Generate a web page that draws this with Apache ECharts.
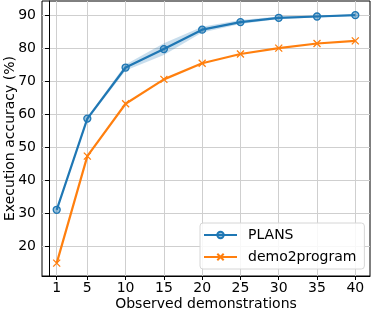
<!DOCTYPE html>
<html>
<head>
<meta charset="utf-8">
<script src="https://cdn.jsdelivr.net/npm/echarts@6/dist/echarts.min.js"></script>
<style>html,body{margin:0;padding:0;background:#fff}#c{width:372px;height:310px}</style>
</head>
<body>
<div id="c"></div>
<script>
const xValues = [1, 5, 10, 15, 20, 25, 30, 35, 40];
const plans = [31.0, 58.7, 74.2, 79.8, 85.7, 88.0, 89.3, 89.7, 90.1];
const plansStd = [0.3, 0.5, 0.9, 1.8, 0.9, 0.6, 0.4, 0.3, 0.2];
const demo2program = [14.8, 47.3, 63.2, 70.6, 75.5, 78.3, 80.1, 81.5, 82.3];
const yTicks = [20, 30, 40, 50, 60, 70, 80, 90];

const FONT = 'DejaVu Sans';
const FS = 14;
const blue = '#1f77b4', orange = '#ff7f0e';
const pair = (arr) => xValues.map((x, i) => [x, arr[i]]);
const upper = plans.map((v, i) => v + plansStd[i]);
const lower = plans.map((v, i) => v - plansStd[i]);

const chart = echarts.init(document.getElementById('c'), null, {renderer: 'canvas'});
chart.setOption({
  animation: false,
  grid: {left: 42, right: 2, top: 1, bottom: 34, show: true, borderColor: '#000', borderWidth: 1,
         containLabel: false, outerBoundsMode: 'none'},
  legend: {
    left: 200, top: 223,
    orient: 'vertical',
    data: ['PLANS', 'demo2program'],
    itemWidth: 33, itemHeight: 8, itemGap: 8,
    padding: [5, 8, 5, 3],
    borderColor: '#d6d6d6', borderWidth: 1, borderRadius: 3,
    backgroundColor: 'rgba(255,255,255,0.85)',
    textStyle: {fontFamily: FONT, fontSize: FS, color: '#000', padding: [0, 0, 0, 6]}
  },
  xAxis: {
    type: 'value', min: -0.92, max: 41.92,
    name: 'Observed demonstrations', nameLocation: 'middle', nameGap: 21, nameMoveOverlap: false,
    nameTextStyle: {fontFamily: FONT, fontSize: FS, color: '#000'},
    axisLine: {show: true, lineStyle: {color: '#000', width: 1}},
    axisTick: {show: true, length: 4, lineStyle: {color: '#000'}, customValues: xValues},
    axisLabel: {fontFamily: FONT, fontSize: FS, color: '#000', margin: 5, customValues: xValues},
    splitLine: {show: true, lineStyle: {color: '#cfcfcf', width: 1}}
  },
  yAxis: {
    type: 'value', min: 10.9, max: 94.4,
    name: 'Execution accuracy (%)', nameLocation: 'middle', nameGap: 25, nameMoveOverlap: false,
    nameTextStyle: {fontFamily: FONT, fontSize: FS, color: '#000'},
    axisLine: {show: true, lineStyle: {color: '#000', width: 1}},
    axisTick: {show: true, length: 4, lineStyle: {color: '#000'}, customValues: yTicks},
    axisLabel: {fontFamily: FONT, fontSize: FS, color: '#000', margin: 6, customValues: yTicks},
    splitLine: {show: true, lineStyle: {color: '#cfcfcf', width: 1}}
  },
  series: [
    {
      name: 'band', type: 'custom', silent: true, z: 1,
      data: [0],
      renderItem: function (params, api) {
        const pts = [];
        for (let i = 0; i < xValues.length; i++) pts.push(api.coord([xValues[i], upper[i]]));
        for (let i = xValues.length - 1; i >= 0; i--) pts.push(api.coord([xValues[i], lower[i]]));
        return {type: 'polygon', shape: {points: pts}, style: {fill: 'rgba(31,119,180,0.24)'}};
      }
    },
    {
      name: 'PLANS', type: 'line', data: pair(plans),
      symbol: 'circle', symbolSize: 7,
      lineStyle: {color: blue, width: 2.2},
      itemStyle: {color: 'rgba(31,119,180,0.45)', borderColor: blue, borderWidth: 1.3},
      z: 3
    },
    {
      name: 'demo2program', type: 'line', data: pair(demo2program),
      symbol: 'path://M0,0L10,10M10,0L0,10', symbolSize: 7,
      lineStyle: {color: orange, width: 2.2},
      itemStyle: {color: 'rgba(0,0,0,0)', borderColor: orange, borderWidth: 1.3},
      z: 2
    }
  ]
});
</script>
</body>
</html>
